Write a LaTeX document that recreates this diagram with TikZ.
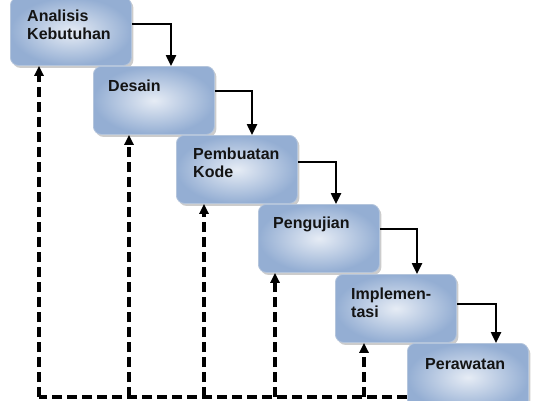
\documentclass[tikz,border=0pt]{standalone}
\usepackage{fontspec}
\setmainfont{Liberation Sans}
\usetikzlibrary{arrows.meta,shadows,calc}
\definecolor{boxin}{HTML}{E6ECF5}
\definecolor{boxout}{HTML}{94AED3}
\definecolor{boxline}{HTML}{B4C5DC}
\begin{document}
\begin{tikzpicture}[x=1pt,y=-1pt,
  stagebox/.style={rectangle, rounded corners=8pt, minimum width=121pt, minimum height=68pt,
    anchor=north west, inner sep=0pt, draw=boxline, line width=0.8pt,
    shading=radial, inner color=boxin, outer color=boxout,
    drop shadow={shadow xshift=2pt, shadow yshift=-2.5pt, opacity=0.4}},
  stagetext/.style={anchor=north west, inner sep=0pt, align=left,
    font=\fontsize{16}{17.8}\selectfont\bfseries, text=black!92},
  flow/.style={line width=2.4pt, -{Triangle[length=11pt,width=10pt]}},
  feedback/.style={line width=3.2pt, dash pattern=on 10pt off 5pt},
  feedbackarrow/.style={feedback, -{Triangle[length=10pt,width=9pt]}}]
\useasboundingbox (0,0) rectangle (547,400);

\node[stagebox] (b1) at (10,-3) {};
\node[stagebox] (b2) at (93,66) {};
\node[stagebox] (b3) at (176,135) {};
\node[stagebox] (b4) at (258,204) {};
\node[stagebox] (b5) at (335,274) {};
\node[stagebox] (b6) at (407,343) {};

\node[stagetext] (t1) at ($(b1.north west)+(17,13)$) {Analisis\\Kebutuhan};
\node[stagetext] (t2) at ($(b2.north west)+(15,14)$) {Desain};
\node[stagetext] (t3) at ($(b3.north west)+(17,13)$) {Pembuatan\\Kode};
\node[stagetext] (t4) at ($(b4.north west)+(15,13)$) {Pengujian};
\node[stagetext] (t5) at ($(b5.north west)+(16,14)$) {Implemen-\\tasi};
\node[stagetext] (t6) at ($(b6.north west)+(18,15)$) {Perawatan};

% solid flow arrows
\draw[flow] (b1.east |- 0,24) -| (171,0 |- b2.north);
\draw[flow] (b2.east |- 0,91) -| (252,0 |- b3.north);
\draw[flow] (b3.east |- 0,162) -| (336,0 |- b4.north);
\draw[flow] (b4.east |- 0,229) -| (417,0 |- b5.north);
\draw[flow] (b5.east |- 0,304) -| (496,0 |- b6.north);

% dashed feedback
\coordinate (j1) at (39,397);
\coordinate (j2) at (129,397);
\coordinate (j3) at (204,397);
\coordinate (j4) at (275,397);
\coordinate (j5) at (364,397);
\draw[feedback] (b6.west |- j5) -- (j1);
\draw[feedbackarrow] (j1) -- (j1 |- b1.south);
\draw[feedbackarrow] (j2) -- (j2 |- b2.south);
\draw[feedbackarrow] (j3) -- (j3 |- b3.south);
\draw[feedbackarrow] (j4) -- (j4 |- b4.south);
\draw[feedbackarrow] (j5) -- (j5 |- b5.south);
\end{tikzpicture}
\end{document}
